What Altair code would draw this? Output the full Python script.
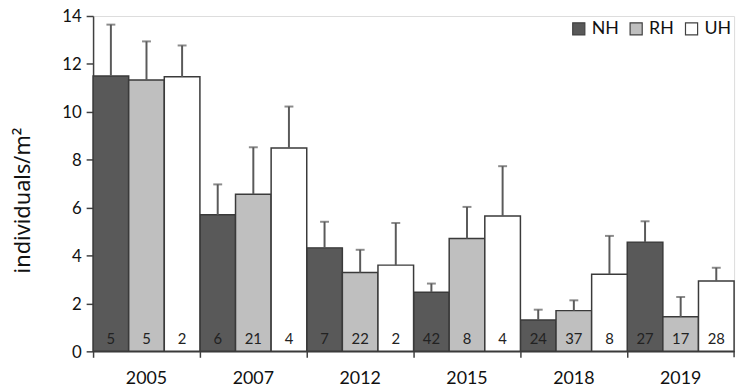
import altair as alt
import pandas as pd

years = ["2005", "2007", "2012", "2015", "2018", "2019"]
series = ["NH", "RH", "UH"]
nh_mean = [11.5, 5.7, 4.32, 2.47, 1.31, 4.56]
nh_upper = [13.64, 6.97, 5.41, 2.83, 1.74, 5.43]
nh_n = [5, 6, 7, 42, 24, 27]
rh_mean = [11.33, 6.56, 3.29, 4.71, 1.70, 1.44]
rh_upper = [12.94, 8.52, 4.24, 6.03, 2.13, 2.27]
rh_n = [5, 21, 22, 8, 37, 17]
uh_mean = [11.46, 8.49, 3.60, 5.65, 3.22, 2.94]
uh_upper = [12.77, 10.22, 5.36, 7.73, 4.82, 3.49]
uh_n = [2, 4, 2, 4, 8, 28]
colors = ["#595959", "#bfbfbf", "#ffffff"]

rows = []
for s, m, u, n in [("NH", nh_mean, nh_upper, nh_n), ("RH", rh_mean, rh_upper, rh_n), ("UH", uh_mean, uh_upper, uh_n)]:
    for i, y in enumerate(years):
        rows.append({"year": y, "series": s, "mean": m[i], "upper": u[i], "n": str(n[i])})
df = pd.DataFrame(rows)

FONT = "Lato"
W, H = 648, 339

x = alt.X("year:N", sort=years, title=None,
          scale=alt.Scale(paddingInner=0, paddingOuter=0),
          axis=alt.Axis(bandPosition=0, tickSize=6, tickColor="#404040",
                        domainColor="#404040", domainWidth=1.5, tickWidth=1.5,
                        labelFont=FONT, labelFontSize=18, labelColor="#111",
                        labelPadding=12, labelAngle=0))
xo = alt.XOffset("series:N", sort=series, scale=alt.Scale(paddingInner=0, paddingOuter=0))
yscale = alt.Scale(domain=[0, 14], nice=False)

base = alt.Chart(df)

bars = base.mark_bar(stroke="#3a3a3a", strokeWidth=1.5).encode(
    x=x, xOffset=xo,
    y=alt.Y("mean:Q", scale=yscale, title="individuals/m²",
            axis=alt.Axis(values=list(range(0, 15, 2)), grid=False, tickSize=7,
                          tickColor="#404040", domainColor="#404040", domainWidth=1.5,
                          tickWidth=1.5, labelFont=FONT, labelFontSize=17, labelColor="#111",
                          labelPadding=5, labelBaseline="alphabetic", labelOffset=6,
                          titleFont="Noto Sans", titleFontSize=22,
                          titleFontWeight="normal", titleColor="#111",
                          titleAngle=270, titleBaseline="middle", titleAlign="center",
                          titleX=-71, titleY=186)),
    color=alt.Color("series:N", sort=series,
                    scale=alt.Scale(domain=series, range=colors),
                    legend=alt.Legend(title=None, orient="none", direction="horizontal",
                                      legendX=482, legendY=4, symbolType="square",
                                      symbolSize=150, symbolStrokeColor="#404040",
                                      symbolStrokeWidth=1.2, labelFont=FONT,
                                      labelFontSize=18, labelColor="#111",
                                      columnPadding=8, labelOffset=4)),
)

err = base.mark_rule(color="#5a5a5a", strokeWidth=2).encode(
    x=x, xOffset=xo, y=alt.Y("mean:Q", scale=yscale), y2="upper:Q")

caps = base.mark_tick(color="#5a5a5a", thickness=2, size=9).encode(
    x=x, xOffset=xo, y=alt.Y("upper:Q", scale=yscale))

labels = base.mark_text(font=FONT, fontSize=15, color="#222", dy=-12, baseline="middle").encode(
    x=x, xOffset=xo, y=alt.Y("zero:Q", scale=yscale), text="n:N"
).transform_calculate(zero="0")

endtick = alt.Chart(pd.DataFrame({"a": [0]})).mark_rule(color="#404040", strokeWidth=1.5).encode(
    x=alt.value(W), y=alt.value(H), y2=alt.value(H + 6))

chart = alt.layer(bars, err, caps, labels, endtick).properties(
    width=W, height=H,
    autosize=alt.AutoSizeParams(type="none"),
    padding={"left": 86, "top": 6, "right": 8, "bottom": 39},
).configure_view(stroke=None).configure(background="white")

chart.save("out.html", embed_options={"renderer": "svg", "actions": False})
